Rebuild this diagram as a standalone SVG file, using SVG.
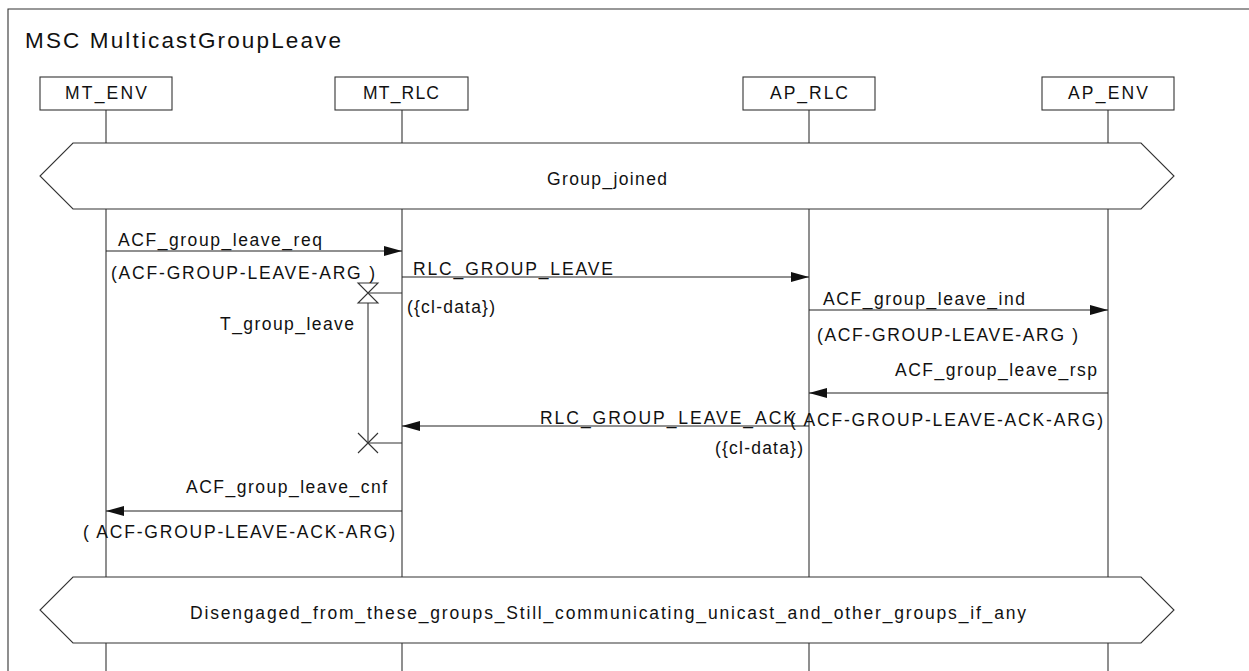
<svg xmlns="http://www.w3.org/2000/svg" width="1249" height="671" viewBox="0 0 1249 671">
<defs>
<style>
text{font-family:"Liberation Sans",Arial,sans-serif;fill:#111;}
.t{font-size:17.5px;}
.title{font-size:22.5px;}
.ln{stroke:#333;stroke-width:1.1;fill:none;}
.box{stroke:#333;stroke-width:1.1;fill:#fff;}
.msg{stroke:#222;stroke-width:1.1;fill:none;}
</style>
<marker id="ah" viewBox="0 0 18 10" refX="18" refY="5" markerWidth="18" markerHeight="10" markerUnits="userSpaceOnUse" orient="auto">
<path d="M0,0 L18,5 L0,10 Z" fill="#111"/>
</marker>
</defs>
<rect width="1249" height="671" fill="#fff"/>
<path class="ln" d="M8,671 V9 H1249"/>
<text class="title" x="25" y="48" textLength="316" lengthAdjust="spacing">MSC MulticastGroupLeave</text>

<g id="lifelines">
<line class="ln" x1="106" y1="110" x2="106" y2="671"/>
<line class="ln" x1="402" y1="110" x2="402" y2="671"/>
<line class="ln" x1="809" y1="110" x2="809" y2="671"/>
<line class="ln" x1="1108" y1="110" x2="1108" y2="671"/>
</g>

<g id="MT_ENV">
<rect class="box" x="40" y="77" width="132" height="33"/>
<text class="t" x="106" y="99" text-anchor="middle" textLength="82" lengthAdjust="spacing">MT_ENV</text>
</g>
<g id="MT_RLC">
<rect class="box" x="335" y="77" width="133" height="33"/>
<text class="t" x="401" y="99" text-anchor="middle" textLength="76" lengthAdjust="spacing">MT_RLC</text>
</g>
<g id="AP_RLC">
<rect class="box" x="743" y="77" width="132" height="33"/>
<text class="t" x="809" y="99" text-anchor="middle" textLength="78" lengthAdjust="spacing">AP_RLC</text>
</g>
<g id="AP_ENV">
<rect class="box" x="1042" y="77" width="132" height="33"/>
<text class="t" x="1108" y="99" text-anchor="middle" textLength="80" lengthAdjust="spacing">AP_ENV</text>
</g>

<g id="cond_group_joined">
<polygon class="box" points="73,143 1141,143 1174,176 1141,209 73,209 40,176"/>
<text class="t" x="607" y="185" text-anchor="middle" textLength="120" lengthAdjust="spacing">Group_joined</text>
</g>

<g id="cond_disengaged">
<polygon class="box" points="73,577 1141,577 1174,610 1141,643 73,643 40,610"/>
<text class="t" x="608" y="619" text-anchor="middle" textLength="836" lengthAdjust="spacing">Disengaged_from_these_groups_Still_communicating_unicast_and_other_groups_if_any</text>
</g>

<g id="timer_T_group_leave">
<line class="ln" x1="402" y1="293" x2="368" y2="293"/>
<path class="ln" d="M358,283 H378 L358,303 H378 Z"/>
<line class="ln" x1="368" y1="303" x2="368" y2="443"/>
<line class="ln" x1="402" y1="443" x2="368" y2="443"/>
<path class="ln" d="M358,433 L378,453 M378,433 L358,453"/>
<text class="t" x="220" y="330" textLength="134" lengthAdjust="spacing">T_group_leave</text>
</g>

<g id="connectors">
<line class="msg" x1="106" y1="251" x2="402" y2="251" marker-end="url(#ah)"/>
<line class="msg" x1="402" y1="277" x2="809" y2="277" marker-end="url(#ah)"/>
<line class="msg" x1="809" y1="310" x2="1108" y2="310" marker-end="url(#ah)"/>
<line class="msg" x1="1108" y1="393" x2="809" y2="393" marker-end="url(#ah)"/>
<line class="msg" x1="809" y1="426" x2="402" y2="426" marker-end="url(#ah)"/>
<line class="msg" x1="402" y1="511" x2="106" y2="511" marker-end="url(#ah)"/>
</g>

<g id="labels">
<text class="t" x="118" y="246" textLength="204" lengthAdjust="spacing">ACF_group_leave_req</text>
<text class="t" x="111" y="279" textLength="264" lengthAdjust="spacing">(ACF-GROUP-LEAVE-ARG )</text>
<text class="t" x="413" y="275" textLength="200" lengthAdjust="spacing">RLC_GROUP_LEAVE</text>
<text class="t" x="407" y="313" textLength="88" lengthAdjust="spacing">({cl-data})</text>
<text class="t" x="823" y="305" textLength="202" lengthAdjust="spacing">ACF_group_leave_ind</text>
<text class="t" x="817" y="341" textLength="261" lengthAdjust="spacing">(ACF-GROUP-LEAVE-ARG )</text>
<text class="t" x="895" y="376" textLength="202" lengthAdjust="spacing">ACF_group_leave_rsp</text>
<text class="t" x="790" y="426" textLength="313" lengthAdjust="spacing">( ACF-GROUP-LEAVE-ACK-ARG)</text>
<text class="t" x="540" y="424" textLength="255" lengthAdjust="spacing">RLC_GROUP_LEAVE_ACK</text>
<text class="t" x="715" y="454" textLength="88" lengthAdjust="spacing">({cl-data})</text>
<text class="t" x="186" y="493" textLength="201" lengthAdjust="spacing">ACF_group_leave_cnf</text>
<text class="t" x="83" y="538" textLength="312" lengthAdjust="spacing">( ACF-GROUP-LEAVE-ACK-ARG)</text>
</g>
</svg>
